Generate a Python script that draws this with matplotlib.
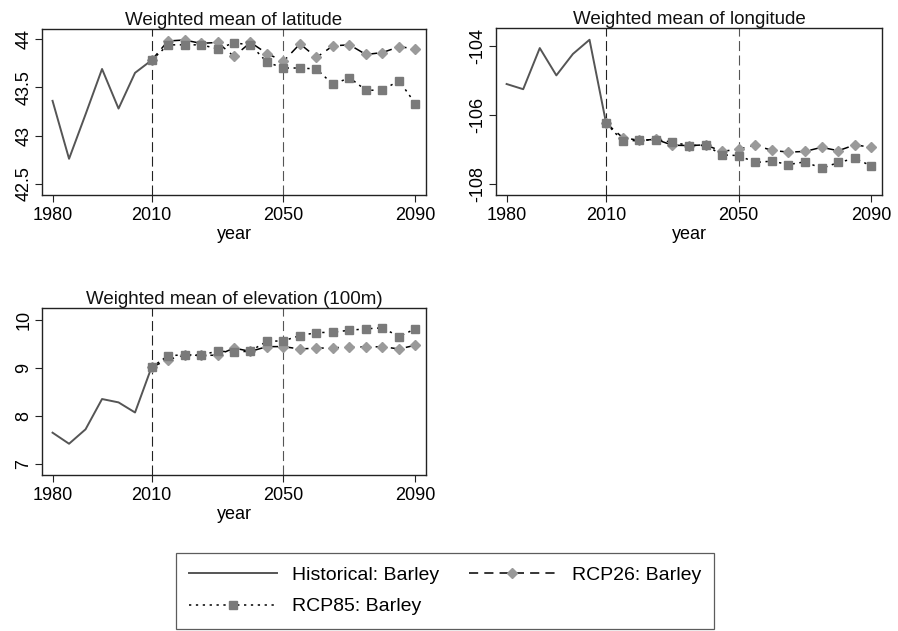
import matplotlib
matplotlib.use("Agg")
import matplotlib.pyplot as plt
from matplotlib.lines import Line2D

plt.rcParams['font.family'] = ['Liberation Sans', 'DejaVu Sans']

hist_years = [1980, 1985, 1990, 1995, 2000, 2005, 2010]
proj_years = [2010, 2015, 2020, 2025, 2030, 2035, 2040, 2045, 2050,
              2055, 2060, 2065, 2070, 2075, 2080, 2085, 2090]

lat_hist = [43.36, 42.76, 43.22, 43.69, 43.28, 43.65, 43.78]
lat_rcp26 = [43.78, 43.98, 43.99, 43.955, 43.965, 43.82, 43.965, 43.85, 43.77,
             43.95, 43.81, 43.93, 43.94, 43.84, 43.86, 43.92, 43.90]
lat_rcp85 = [43.78, 43.94, 43.94, 43.94, 43.90, 43.96, 43.94, 43.76, 43.70,
             43.70, 43.69, 43.53, 43.60, 43.47, 43.47, 43.57, 43.33]

lon_hist = [-105.11, -105.26, -104.07, -104.86, -104.24, -103.83, -106.24]
lon_rcp26 = [-106.24, -106.66, -106.74, -106.71, -106.88, -106.89, -106.87, -107.06, -106.99,
             -106.88, -107.03, -107.08, -107.06, -106.94, -107.04, -106.87, -106.94]
lon_rcp85 = [-106.24, -106.76, -106.74, -106.72, -106.79, -106.89, -106.88, -107.16, -107.18,
             -107.38, -107.34, -107.44, -107.36, -107.55, -107.38, -107.26, -107.48]

elev_hist = [7.65, 7.42, 7.72, 8.35, 8.28, 8.07, 9.01]
elev_rcp26 = [9.01, 9.17, 9.26, 9.26, 9.26, 9.41, 9.34, 9.44, 9.44,
              9.39, 9.41, 9.41, 9.44, 9.43, 9.44, 9.39, 9.47]
elev_rcp85 = [9.01, 9.25, 9.27, 9.26, 9.35, 9.32, 9.35, 9.55, 9.56,
              9.67, 9.73, 9.74, 9.78, 9.81, 9.83, 9.65, 9.81]

titles = ["Weighted mean of latitude", "Weighted mean of longitude",
          "Weighted mean of elevation (100m)"]
yticks = [[42.5, 43, 43.5, 44], [-108, -106, -104], [7, 8, 9, 10]]
yticklabels = [["42.5", "43", "43.5", "44"], ["-108", "-106", "-104"], ["7", "8", "9", "10"]]
ylims = [(42.385, 44.104), (-108.32, -103.49), (6.77, 10.243)]
xticks = [1980, 2010, 2050, 2090]

W, H = 898, 631
fig = plt.figure(figsize=(W / 100, H / 100), dpi=100)

def rect(x0, x1, y0, y1):
    return [x0 / W, 1 - y1 / H, (x1 - x0) / W, (y1 - y0) / H]

rects = [rect(42, 426, 29, 195), rect(496, 882, 28, 195), rect(42, 426, 308, 475)]
series = [(lat_hist, lat_rcp26, lat_rcp85), (lon_hist, lon_rcp26, lon_rcp85),
          (elev_hist, elev_rcp26, elev_rcp85)]

hist_color = '#555555'
d_color = '#9a9a9a'
s_color = '#7a7a7a'
ms = 5.5

for i in range(3):
    ax = fig.add_axes(rects[i])
    h, r26, r85 = series[i]
    ax.axvline(2010, color='#222222', lw=0.8, ls=(0, (9, 4)), zorder=1)
    ax.axvline(2050, color='#555555', lw=0.8, ls=(0, (9, 4)), zorder=1)
    ax.plot(hist_years, h, color=hist_color, lw=1.4, zorder=2)
    ax.plot(proj_years, r26, color='black', lw=1.1, ls=(0, (6, 4)),
            marker='D', ms=ms, mfc=d_color, mec=d_color, zorder=3)
    ax.plot(proj_years, r85, color='black', lw=1.1, ls=(0, (1.5, 3)),
            marker='s', ms=ms, mfc=s_color, mec=s_color, zorder=4)
    ax.set_xlim(1976.8, 2093.2)
    ax.set_ylim(*ylims[i])
    ax.set_xticks(xticks)
    ax.set_xticklabels([str(x) for x in xticks])
    ax.set_yticks(yticks[i])
    ax.set_yticklabels(yticklabels[i], rotation=90, va='center')
    ax.tick_params(axis='both', direction='out', length=5, width=0.8,
                   labelsize=13, color='#222222')
    ax.tick_params(axis='x', pad=4)
    ax.tick_params(axis='y', pad=2)
    for sp in ax.spines.values():
        sp.set_linewidth(1.0)
        sp.set_color('#222222')
    ax.set_title(titles[i], fontsize=13.5, pad=3, color='#111111')
    ax.set_xlabel('year', fontsize=13, labelpad=1)

handles = [
    Line2D([], [], color=hist_color, lw=1.4),
    Line2D([], [], color='black', lw=1.1, ls=(0, (1.5, 3)), marker='s', ms=ms,
           mfc=s_color, mec=s_color),
    Line2D([], [], color='black', lw=1.1, ls=(0, (6, 4)), marker='D', ms=ms,
           mfc=d_color, mec=d_color),
]
labels = ["Historical: Barley", "RCP85: Barley", "RCP26: Barley"]
leg = fig.legend(handles, labels, ncol=2, loc='center',
                 bbox_to_anchor=(445 / W, 1 - 591 / H), fontsize=14,
                 frameon=True, fancybox=False, edgecolor='#333333',
                 handlelength=4.5, handletextpad=0.8, columnspacing=1.5,
                 borderpad=0.7, labelspacing=0.7)
leg.get_frame().set_linewidth(0.9)

fig.savefig('out.png', dpi=100)
